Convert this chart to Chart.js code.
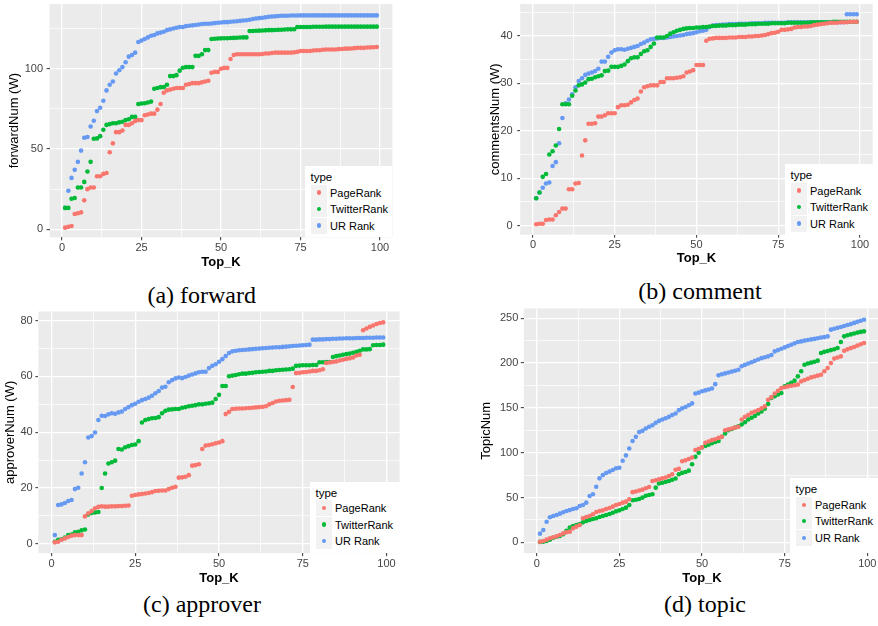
<!DOCTYPE html>
<html>
<head>
<meta charset="utf-8">
<title>Top_K comparison</title>
<script src="https://cdn.jsdelivr.net/npm/chart.js@4.4.1/dist/chart.umd.min.js"></script>
<style>
  html, body { margin: 0; padding: 0; background: #fff; width: 878px; height: 626px; overflow: hidden; }
  body { position: relative; font-family: "Liberation Sans", Arial, sans-serif; }
  canvas { position: absolute; }
  .caption { position: absolute; font-family: "Liberation Serif", "Times New Roman", serif; font-size: 24px; line-height: 1; transform: translate(-50%, -50%); white-space: nowrap; color: #000; }
  .legend { position: absolute; background: #fff; font-size: 11px; color: #000; }
  .legend .lg-title { position: absolute; left: 5.5px; top: 4px; font-size: 11.5px; line-height: 14px; }
  .legend .key { position: absolute; left: 6px; width: 16px; height: 16px; background: #F2F2F2; }
  .legend .key i { position: absolute; left: 5.8px; top: 5.8px; width: 4.4px; height: 4.4px; border-radius: 50%; }
  .legend .lbl { position: absolute; left: 25px; line-height: 14px; white-space: nowrap; }
</style>
</head>
<body>
<script>
// x categories (Top_K) and tick labels
const topK = [
  1, 2, 3, 4, 5, 6, 7, 8, 9, 10, 11, 12, 13, 14, 15, 16, 17, 18, 19, 20,
  21, 22, 23, 24, 25, 26, 27, 28, 29, 30, 31, 32, 33, 34, 35, 36, 37, 38, 39, 40,
  41, 42, 43, 44, 45, 46, 47, 48, 49, 50, 51, 52, 53, 54, 55, 56, 57, 58, 59, 60,
  61, 62, 63, 64, 65, 66, 67, 68, 69, 70, 71, 72, 73, 74, 75, 76, 77, 78, 79, 80,
  81, 82, 83, 84, 85, 86, 87, 88, 89, 90, 91, 92, 93, 94, 95, 96, 97, 98, 99
];
const xTickLabels = [0, 25, 50, 75, 100];
const seriesNames = ['PageRank', 'TwitterRank', 'UR Rank'];
const seriesColors = ['#F8766D', '#00BA38', '#6699F2'];

// (a) forward
const forwardTicks = [0, 50, 100];
const forwardPageRank = [
  1, 1.5, 2, 9.5, 10, 10.5, 18, 25, 26, 26,
  33, 33, 34.5, 35, 48, 53.5, 60.5, 60.5, 61.5, 65,
  65, 66, 67.5, 68, 68, 71, 71.5, 72, 72, 74.5,
  78, 85, 86.5, 87, 87.5, 88, 88, 88, 90, 90.5,
  91, 91, 91, 91.5, 92, 92.5, 97.5, 98, 98, 100,
  100.5, 100.5, 106, 108.5, 109, 109, 109, 109, 109, 109,
  109, 109, 109.2, 109.5, 109.5, 109.8, 110, 110, 110, 110,
  110, 110, 110.2, 110.5, 111, 111, 111, 111, 111.3, 111.5,
  111.5, 111.8, 112, 112, 112, 112, 112.2, 112.3, 112.5, 112.5,
  112.6, 112.8, 113, 113, 113, 113.2, 113.3, 113.4, 113.5
];
const forwardTwitterRank = [
  13.3, 13.3, 19, 19.5, 26, 26, 29.5, 36, 42, 56.4,
  56.6, 58, 62, 65, 65.5, 66, 66, 66.6, 67, 68,
  68.5, 70, 70, 78, 78.3, 78.5, 79, 79.5, 87.5, 88,
  88.5, 88.5, 90, 95.4, 95.4, 96, 98.8, 100.6, 101, 101,
  101, 108, 108, 109, 111.6, 111.6, 118.5, 118.7, 118.8, 118.9,
  119, 119, 119.1, 119.2, 119.3, 119.4, 119.5, 119.5, 123.5, 123.5,
  123.6, 123.7, 123.8, 123.9, 124, 124, 124.1, 124.2, 124.3, 124.4,
  124.5, 124.5, 124.6, 126, 126, 126, 126, 126, 126.1, 126.1,
  126.1, 126.1, 126.2, 126.2, 126.2, 126.2, 126.2, 126.2, 126.2, 126.2,
  126.2, 126.2, 126.2, 126.2, 126.2, 126.2, 126.2, 126.2, 126.2
];
const forwardURRank = [
  13.3, 24, 32, 37, 42, 49, 57, 57.5, 64, 67.6,
  73.6, 75.7, 80, 86.5, 90, 92, 97, 99, 101, 104,
  107.5, 108.5, 110, 116.6, 117.5, 118.5, 119.5, 120.5, 121, 122,
  122.5, 123, 124, 124.5, 125, 125.5, 126, 126, 126.5, 126.8,
  127, 127.2, 127.5, 127.8, 128, 128, 128.2, 128.4, 128.6, 128.8,
  129, 129, 129.2, 129.4, 129.6, 129.8, 130, 130.2, 130.5, 131,
  131.3, 131.5, 131.7, 132, 132.3, 132.5, 132.6, 132.8, 133, 133,
  133, 133.1, 133.1, 133.1, 133.2, 133.2, 133.2, 133.2, 133.2, 133.2,
  133.2, 133.2, 133.2, 133.2, 133.2, 133.2, 133.2, 133.2, 133.2, 133.2,
  133.2, 133.2, 133.2, 133.2, 133.2, 133.2, 133.2, 133.2, 133.2
];

// (b) comment
const commentTicks = [0, 10, 20, 30, 40];
const commentPageRank = [
  0.3, 0.4, 0.4, 1.2, 1.3, 1.3, 2.2, 2.9, 3.6, 3.6,
  7.7, 7.7, 8.9, 9, 14.8, 18, 21.5, 21.5, 21.6, 23,
  23, 23.3, 23.7, 23.7, 23.7, 25, 25.4, 25.4, 25.5, 26,
  26.5, 26.8, 28.3, 29.2, 29.4, 29.6, 29.6, 29.6, 30.3, 30.3,
  31.1, 31.1, 31.1, 31.2, 31.3, 31.5, 32.3, 32.5, 32.8, 33.9,
  33.9, 33.9, 39, 39.4, 39.5, 39.6, 39.6, 39.6, 39.6, 39.7,
  39.7, 39.7, 39.8, 39.8, 39.8, 39.9, 39.9, 40, 40, 40.1,
  40.2, 40.4, 40.6, 40.7, 40.9, 41.3, 41.3, 41.4, 41.5, 41.8,
  41.9, 41.9, 42, 42, 42.1, 42.3, 42.4, 42.5, 42.6, 42.7,
  42.8, 42.8, 42.8, 42.9, 42.9, 42.9, 43, 43, 43
];
const commentTwitterRank = [
  5.8, 7, 10.3, 10.9, 15, 15.7, 16.9, 20.4, 25.6, 25.6,
  25.6, 27.4, 28.5, 29.6, 29.8, 30.2, 30.9, 31, 31.3, 31.5,
  31.7, 32.6, 32.7, 33.5, 33.5, 33.5, 33.7, 34, 34.7, 35.3,
  35.5, 35.5, 36.2, 36.8, 37, 37.7, 38.4, 39.7, 39.7, 39.7,
  40, 40.5, 40.8, 41.1, 41.3, 41.5, 41.6, 41.7, 41.7, 41.8,
  41.8, 41.9, 41.9, 42, 42.1, 42.1, 42.2, 42.2, 42.2, 42.3,
  42.3, 42.3, 42.4, 42.4, 42.4, 42.5, 42.5, 42.5, 42.6, 42.6,
  42.6, 42.6, 42.7, 42.7, 42.7, 42.7, 42.7, 42.8, 42.8, 42.8,
  42.8, 42.8, 42.8, 42.8, 42.9, 42.9, 42.9, 42.9, 42.9, 42.9,
  42.9, 43, 43, 43, 43, 43, 43, 43, 43
];
const commentURRank = [
  5.8, 7, 8, 8.9, 9.1, 12.6, 13.4, 17.4, 22.7, 25.8,
  26.6, 27.7, 29.2, 30.5, 31.1, 31.8, 32.1, 32.3, 32.6, 33.1,
  34.6, 34.6, 35.6, 36.5, 37, 37.2, 37.2, 37.1, 37.3, 37.5,
  37.7, 37.9, 38.3, 38.6, 39, 39.3, 39.4, 39.5, 39.6, 39.6,
  39.7, 39.8, 39.9, 40, 40.1, 40.2, 40.4, 40.5, 40.6, 40.8,
  41, 41.1, 41.3, 41.9, 42.2, 42.3, 42.3, 42.4, 42.4, 42.5,
  42.5, 42.5, 42.6, 42.6, 42.6, 42.6, 42.7, 42.7, 42.7, 42.7,
  42.8, 42.8, 42.8, 42.8, 42.8, 42.8, 42.8, 42.9, 42.9, 42.9,
  42.9, 42.9, 42.9, 42.9, 42.9, 42.9, 42.9, 42.9, 42.9, 42.9,
  42.9, 42.9, 42.9, 42.9, 42.9, 44.6, 44.6, 44.6, 44.6
];

// (c) approver
const approverTicks = [0, 20, 40, 60, 80];
const approverPageRank = [
  0.5, 0.7, 1.4, 1.9, 2.4, 2.9, 3.1, 3.1, 3.1, 9.8,
  10.9, 11.7, 12.7, 13.2, 13.4, 13.3, 13.3, 13.4, 13.4, 13.5,
  13.5, 13.6, 13.7, 17.2, 17.5, 17.7, 17.8, 18, 18.2, 18.5,
  18.9, 19, 19.1, 19.1, 19.6, 20.1, 20.4, 23.7, 23.8, 24,
  24.6, 28, 28.2, 28.5, 34, 35.2, 35.4, 35.7, 36, 36.3,
  36.8, 46.5, 47.3, 48.3, 48.4, 48.5, 48.5, 48.6, 48.7, 48.8,
  48.9, 49, 49.1, 49.3, 50, 50.5, 51, 51.3, 51.4, 51.5,
  51.6, 56.2, 61.2, 61.3, 61.5, 61.6, 61.8, 62, 62, 62.2,
  62.6, 64.8, 65, 65.2, 65.4, 65.7, 66, 66.3, 66.5, 66.8,
  67.5, 67.8, 76.6, 77.2, 77.8, 78.3, 78.8, 79.2, 79.4
];
const approverTwitterRank = [
  0.7, 1.4, 1.6, 2.2, 3.1, 3.3, 4.1, 4.3, 4.8, 5.1,
  10.5, 11, 11.2, 11.4, 20, 25.2, 28.8, 29.2, 29.8, 34,
  33.8, 34.6, 35, 35.4, 35.6, 36.8, 43.5, 44.4, 44.7, 45,
  45.1, 45.4, 46.8, 47.7, 48.1, 48.2, 48.3, 48.3, 48.8, 49,
  49.3, 49.5, 49.7, 50, 50, 50.2, 50.4, 50.6, 51.9, 53.4,
  56.6, 56.6, 60.1, 60.3, 60.5, 60.8, 61, 61, 61.2, 61.3,
  61.5, 61.6, 61.7, 61.8, 62, 62, 62.2, 62.3, 62.4, 62.5,
  62.6, 62.8, 63.8, 63.9, 64, 64, 64, 64.1, 64.1, 65.1,
  65.1, 65.2, 65.2, 67, 67.3, 67.5, 67.8, 68, 68.2, 68.5,
  68.8, 69.2, 69.7, 69.7, 69.8, 71.2, 71.3, 71.3, 71.4
];
const approverURRank = [
  3.1, 13.9, 14.1, 14.6, 15.3, 15.7, 19.6, 20.1, 25.2, 29.2,
  38.1, 38.6, 39.9, 44.4, 45.9, 45.8, 46.4, 46.8, 46.6, 47.1,
  47.4, 48.3, 49, 49.7, 50.2, 50.9, 51.5, 51.9, 52.4, 53.1,
  54, 54.8, 56, 56.3, 57.9, 58.7, 59.3, 59.6, 59.4, 59.8,
  60.3, 60.7, 61.1, 61.5, 61.7, 61.7, 63, 63.8, 64.4, 65.3,
  66.2, 67.3, 68.4, 69, 69.2, 69.4, 69.5, 69.6, 69.7, 69.8,
  69.9, 70, 70.1, 70.2, 70.3, 70.4, 70.5, 70.5, 70.6, 70.7,
  70.8, 70.9, 71, 71.1, 71.2, 71.3, 71.4, 73.2, 73.2, 73.3,
  73.3, 73.4, 73.4, 73.5, 73.5, 73.6, 73.6, 73.7, 73.7, 73.7,
  73.8, 73.8, 73.8, 73.9, 73.9, 73.9, 74, 74, 74
];

// (d) topic
const topicTicks = [0, 50, 100, 150, 200, 250];
const topicPageRank = [
  0.7, 1.5, 3, 4.5, 5.6, 6.7, 8.2, 10, 11.2, 11.9,
  15.6, 17.5, 19.3, 26.8, 28.3, 29.4, 31.3, 33.9, 35, 35.7,
  37.2, 38.3, 39.8, 41.7, 42.8, 44.3, 45.4, 48, 56, 56.8,
  57.8, 58.8, 60.3, 61.8, 68.5, 69.3, 70.3, 71.4, 72.3, 74,
  76, 81, 82, 90.5, 91.5, 93, 94.6, 103, 104.5, 106,
  111, 112.5, 114, 115, 116.5, 117.7, 125, 126, 127, 128,
  129, 137, 140, 142, 144.5, 146, 147.5, 149.5, 151.7, 159,
  162, 166, 169, 172, 173, 174, 174.7, 175.3, 176, 179.6,
  181, 182.5, 184, 185, 186, 187, 190.8, 194.5, 200, 205,
  206.3, 207.5, 213.8, 215.3, 216.7, 218, 219.5, 221, 222.4
];
const topicTwitterRank = [
  0.5, 0.7, 1.5, 3, 5.2, 6.3, 7, 9, 13, 16.4,
  18.2, 19.3, 20.5, 22.3, 23.8, 25, 26, 26.8, 28.3, 29.4,
  30.5, 31.6, 33.1, 34.6, 35.7, 37.2, 38.7, 41.7, 47, 47.6,
  48.4, 49.9, 52, 52.8, 53.6, 61, 65.6, 66.5, 67.5, 68.5,
  69.8, 71.2, 76, 77.5, 78.5, 80, 87.2, 95.4, 100, 105.8,
  107.5, 109, 110.5, 112, 113.2, 117.7, 121.4, 125, 126.5, 128,
  129.5, 131.5, 134, 137, 139, 141, 143.8, 146, 149, 154.3,
  161, 163, 165, 166.6, 174, 176, 178, 180.4, 185.2, 190.8,
  198.2, 199.5, 200.5, 201.5, 202.7, 211.2, 212.5, 213.5, 214.5, 215.5,
  216.8, 223.5, 229.8, 231, 232, 233, 234, 234.8, 235.4
];
const topicURRank = [
  9.7, 13.8, 23, 28, 29.4, 30.5, 32, 33.5, 35, 36,
  37.2, 38, 40.5, 41.7, 44.3, 51.7, 53.6, 62, 71.4, 75,
  77.4, 78.9, 80.7, 82.6, 83.3, 91, 97, 104.7, 113, 117.7,
  123, 124.4, 127, 129, 130.7, 133.3, 135.5, 137, 138.5, 140,
  142, 143.8, 147.5, 149.5, 151, 153, 155, 166, 167, 168.5,
  169.5, 170.5, 171.7, 176.5, 186.5, 187.5, 188.5, 189.5, 190.5, 191.5,
  192.5, 196.4, 198, 199.5, 201, 202.5, 204, 205.5, 206.5, 207.5,
  209, 213, 214.5, 216, 217.5, 219, 220.5, 222, 223.5, 224.2,
  225, 225.7, 226.4, 227, 227.7, 228.4, 229, 229.8, 237.3, 238.3,
  239.3, 240.3, 241.3, 242.4, 243.5, 244.8, 246, 247.2, 248.4
];

// layout of the four panels (pixel boxes of each plot area, captions, legends)
const X_RANGE = [-3.9, 103.9];
const FONT = '"Liberation Sans", Arial, sans-serif';
const Y_TITLE_SIZE = 13;
const X_TITLE_SIZE = 13;

const panels = [
  {
    caption: '(a) forward', yTitle: 'forwardNum (W)', yTicks: forwardTicks,
    series: [forwardPageRank, forwardTwitterRank, forwardURRank],
    area: { left: 49.6, right: 392.4, top: 4, bottom: 237.3 }, yRange: [-5, 140.3],
    titleX: 14, xTitleY: 262, tickPad: 3.6, captionAt: [201.7, 295], legendAt: [305, 166]
  },
  {
    caption: '(b) comment', yTitle: 'commentsNum (W)', yTicks: commentTicks,
    series: [commentPageRank, commentTwitterRank, commentURRank],
    area: { left: 520.2, right: 872.8, top: 4, bottom: 234.7 }, yRange: [-1.9, 46.75],
    titleX: 495, xTitleY: 258.5, tickPad: 4.5, captionAt: [700, 291], legendAt: [785, 164]
  },
  {
    caption: '(c) approver', yTitle: 'approverNum (W)', yTicks: approverTicks,
    series: [approverPageRank, approverTwitterRank, approverURRank],
    area: { left: 38.4, right: 399.6, top: 311.5, bottom: 553.2 }, yRange: [-3.4, 83.3],
    titleX: 10, xTitleY: 578, tickPad: 2.7, captionAt: [202, 604], legendAt: [310, 481.7]
  },
  {
    caption: '(d) topic', yTitle: 'TopicNum', yTicks: topicTicks,
    series: [topicPageRank, topicTwitterRank, topicURRank],
    area: { left: 523.8, right: 880.2, top: 308.4, bottom: 553.1 }, yRange: [-12, 261],
    titleX: 486, xTitleY: 578, tickPad: 2.5, captionAt: [705, 604], legendAt: [790, 478.3]
  }
];

// ggplot-like minor breaks: halfway between majors, kept inside the range
function minorBreaks(majors, min, max) {
  const step = majors[1] - majors[0];
  const out = majors.map((v) => v - step / 2);
  out.push(majors[majors.length - 1] + step / 2);
  return out.filter((v) => v > min && v < max);
}

// grey panel background
const panelBg = {
  id: 'panelBg',
  beforeDraw(chart) {
    const { ctx, chartArea: a } = chart;
    ctx.save();
    ctx.fillStyle = '#EBEBEB';
    ctx.fillRect(a.left, a.top, a.right - a.left, a.bottom - a.top);
    ctx.restore();
  }
};

function axisOptions(majors, minors, range, extra) {
  const isMajor = (c) => c.tick && majors.includes(c.tick.value);
  const all = majors.concat(minors).sort((a, b) => a - b);
  return Object.assign({
    type: 'linear',
    min: range[0],
    max: range[1],
    afterBuildTicks: (s) => { s.ticks = all.map((v) => ({ value: v })); },
    grid: {
      color: '#FFFFFF',
      lineWidth: (c) => (isMajor(c) ? 1.3 : 0.7),
      drawTicks: true,
      tickLength: 3,
      tickWidth: 1,
      tickColor: (c) => (isMajor(c) ? '#333333' : 'rgba(0,0,0,0)')
    },
    border: { display: false }
  }, extra);
}

function buildPanel(p) {
  const left = Math.floor(p.titleX - 10);
  const top = Math.floor(p.area.top - 12);
  const w = Math.ceil(p.area.right - left) + 2;
  const h = Math.ceil(p.xTitleY + 10 - top);
  const yAxisW = p.area.left - left;
  const xAxisH = p.xTitleY + (X_TITLE_SIZE * 1.2) / 2 - p.area.bottom;
  const padTop = p.area.top - top;
  const padRight = left + w - p.area.right;
  const padBottom = top + h - p.area.bottom - xAxisH;
  const yTitlePad = p.titleX - left - (Y_TITLE_SIZE * 1.2) / 2;

  const canvas = document.createElement('canvas');
  canvas.width = w;
  canvas.height = h;
  canvas.style.left = left + 'px';
  canvas.style.top = top + 'px';
  canvas.style.width = w + 'px';
  canvas.style.height = h + 'px';
  document.body.appendChild(canvas);

  const tickFont = { family: FONT, size: 11 };

  new Chart(canvas.getContext('2d'), {
    type: 'scatter',
    data: {
      datasets: seriesNames.map((name, i) => ({
        label: name,
        data: topK.map((k, j) => ({ x: k, y: p.series[i][j] })),
        backgroundColor: seriesColors[i],
        borderColor: seriesColors[i],
        pointRadius: 2.3,
        pointHoverRadius: 2.3,
        pointBorderWidth: 0
      }))
    },
    options: {
      responsive: false,
      animation: false,
      events: [],
      layout: { padding: { left: 0, top: padTop, right: padRight, bottom: padBottom } },
      plugins: { legend: { display: false }, tooltip: { enabled: false } },
      scales: {
        x: axisOptions(xTickLabels, minorBreaks(xTickLabels, X_RANGE[0], X_RANGE[1]), X_RANGE, {
          afterFit: (s) => { s.height = xAxisH; },
          ticks: {
            autoSkip: false, maxRotation: 0, padding: 1, color: '#444444', font: tickFont,
            callback: (v) => (xTickLabels.includes(v) ? String(v) : '')
          },
          title: { display: true, text: 'Top_K', color: '#000', padding: 0,
            font: { family: FONT, size: X_TITLE_SIZE, weight: 'bold' } }
        }),
        y: axisOptions(p.yTicks, minorBreaks(p.yTicks, p.yRange[0], p.yRange[1]), p.yRange, {
          afterFit: (s) => { s.width = yAxisW; },
          ticks: {
            autoSkip: false, padding: p.tickPad, color: '#444444', font: tickFont,
            callback: (v) => (p.yTicks.includes(v) ? String(v) : '')
          },
          title: { display: true, text: p.yTitle, color: '#000', padding: { top: yTitlePad, bottom: 0 },
            font: { family: FONT, size: Y_TITLE_SIZE } }
        })
      }
    },
    plugins: [panelBg]
  });

  // legend box, bottom-right inside the panel
  const lg = document.createElement('div');
  lg.className = 'legend';
  lg.style.left = p.legendAt[0] + 'px';
  lg.style.top = p.legendAt[1] + 'px';
  lg.style.width = (p.area.right - p.legendAt[0]) + 'px';
  lg.style.height = (p.area.bottom - p.legendAt[1]) + 'px';
  let html = '<div class="lg-title">type</div>';
  seriesNames.forEach((name, i) => {
    const cy = 26.5 + i * 16.5;
    html += `<div class="key" style="top:${cy - 8}px"><i style="background:${seriesColors[i]}"></i></div>`;
    html += `<div class="lbl" style="top:${cy - 7}px">${name}</div>`;
  });
  lg.innerHTML = html;
  document.body.appendChild(lg);

  const cap = document.createElement('div');
  cap.className = 'caption';
  cap.style.left = p.captionAt[0] + 'px';
  cap.style.top = p.captionAt[1] + 'px';
  cap.textContent = p.caption;
  document.body.appendChild(cap);
}

window.addEventListener('DOMContentLoaded', () => {
  panels.forEach(buildPanel);
});
</script>
</body>
</html>
